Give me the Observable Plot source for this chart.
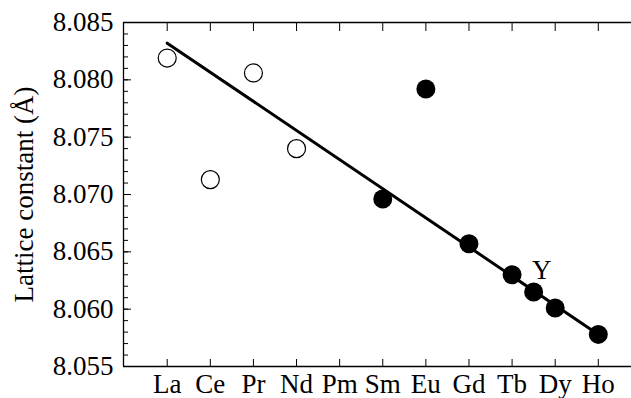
<!DOCTYPE html>
<html><head><meta charset="utf-8">
<script src="https://cdn.jsdelivr.net/npm/d3@7"></script>
<script src="https://cdn.jsdelivr.net/npm/@observablehq/plot@0.6"></script>
<style>
body{margin:0;background:#fff}
#chart svg, #chart svg text{font-family:"Liberation Serif","Times New Roman",serif !important;}
#chart svg text{font-size:27px !important;}
</style>
</head><body><div id="chart"></div>
<script>
const categories = ["La","Ce","Pr","Nd","Pm","Sm","Eu","Gd","Tb","Dy","Ho"];
const openNames = ["La","Ce","Pr","Nd"];
const openIndex = [0,1,2,3];
const openValues = [8.0819, 8.0713, 8.0806, 8.0740];
const filledNames = ["Sm","Eu","Gd","Tb","Y","Dy","Ho"];
const filledIndex = [5,6,7,8,8.5,9,10];
const filledValues = [8.0696, 8.0792, 8.0657, 8.0630, 8.0615, 8.0601, 8.0578];
const fitIndex = [0, 10];
const fitValues = [8.0832, 8.0578];
const yTicks = [8.055, 8.060, 8.065, 8.070, 8.075, 8.080, 8.085];
const yMinorTicks = d3.range(8055, 8086).map(v => v / 1000);
const annotation = ["Y"];

const openData = openNames.map((n, i) => ({name: n, x: openIndex[i], y: openValues[i]}));
const filledData = filledNames.map((n, i) => ({name: n, x: filledIndex[i], y: filledValues[i]}));
const fitData = fitIndex.map((x, i) => ({x, y: fitValues[i]}));
const yLabelData = filledData.filter(d => annotation.includes(d.name));

const font = "Liberation Serif, Times New Roman, serif";
const xDomain = [-1.014, 10.77];
const yDomain = [8.055, 8.085];
const idx = d3.range(categories.length);

const chart = Plot.plot({
  width: 631, height: 398,
  marginLeft: 123, marginRight: 0, marginTop: 22, marginBottom: 32,
  style: {fontFamily: font, fontSize: "27px", color: "#000", background: "#fff", overflow: "visible"},
  x: {domain: xDomain},
  y: {domain: yDomain},
  marks: [
    Plot.axisY({ticks: yTicks, tickSize: 0, tickPadding: 10, tickFormat: d3.format(".3f"),
      label: "Lattice constant (Å)", labelAnchor: "center", labelOffset: 110, labelArrow: "none"}),
    Plot.axisY({ticks: yMinorTicks, tickSize: -5, tickFormat: () => "", label: null}),
    Plot.axisY({ticks: yTicks, tickSize: -8, tickFormat: () => "", label: null}),
    Plot.axisX({ticks: idx, tickSize: 0, tickPadding: 7, tickFormat: i => categories[i], label: null}),
    Plot.axisX({ticks: idx, tickSize: -7, tickFormat: () => "", label: null}),
    Plot.axisX({anchor: "top", ticks: idx, tickSize: -8, tickFormat: () => "", label: null}),
    Plot.ruleY(yDomain, {stroke: "#000", strokeWidth: 1.3}),
    Plot.ruleX([xDomain[0]], {stroke: "#000", strokeWidth: 1.3}),
    Plot.line(fitData, {x: "x", y: "y", stroke: "#000", strokeWidth: 3}),
    Plot.dot(openData, {x: "x", y: "y", r: 9, stroke: "#000", fill: "#fff", strokeWidth: 1.2}),
    Plot.dot(filledData, {x: "x", y: "y", r: 9.5, fill: "#000", stroke: "none"}),
    Plot.text(yLabelData, {x: "x", y: "y", text: "name", dx: 8, dy: -22, fill: "#000", fontSize: 27})
  ]
});
document.getElementById("chart").appendChild(chart);
</script>
</body></html>
